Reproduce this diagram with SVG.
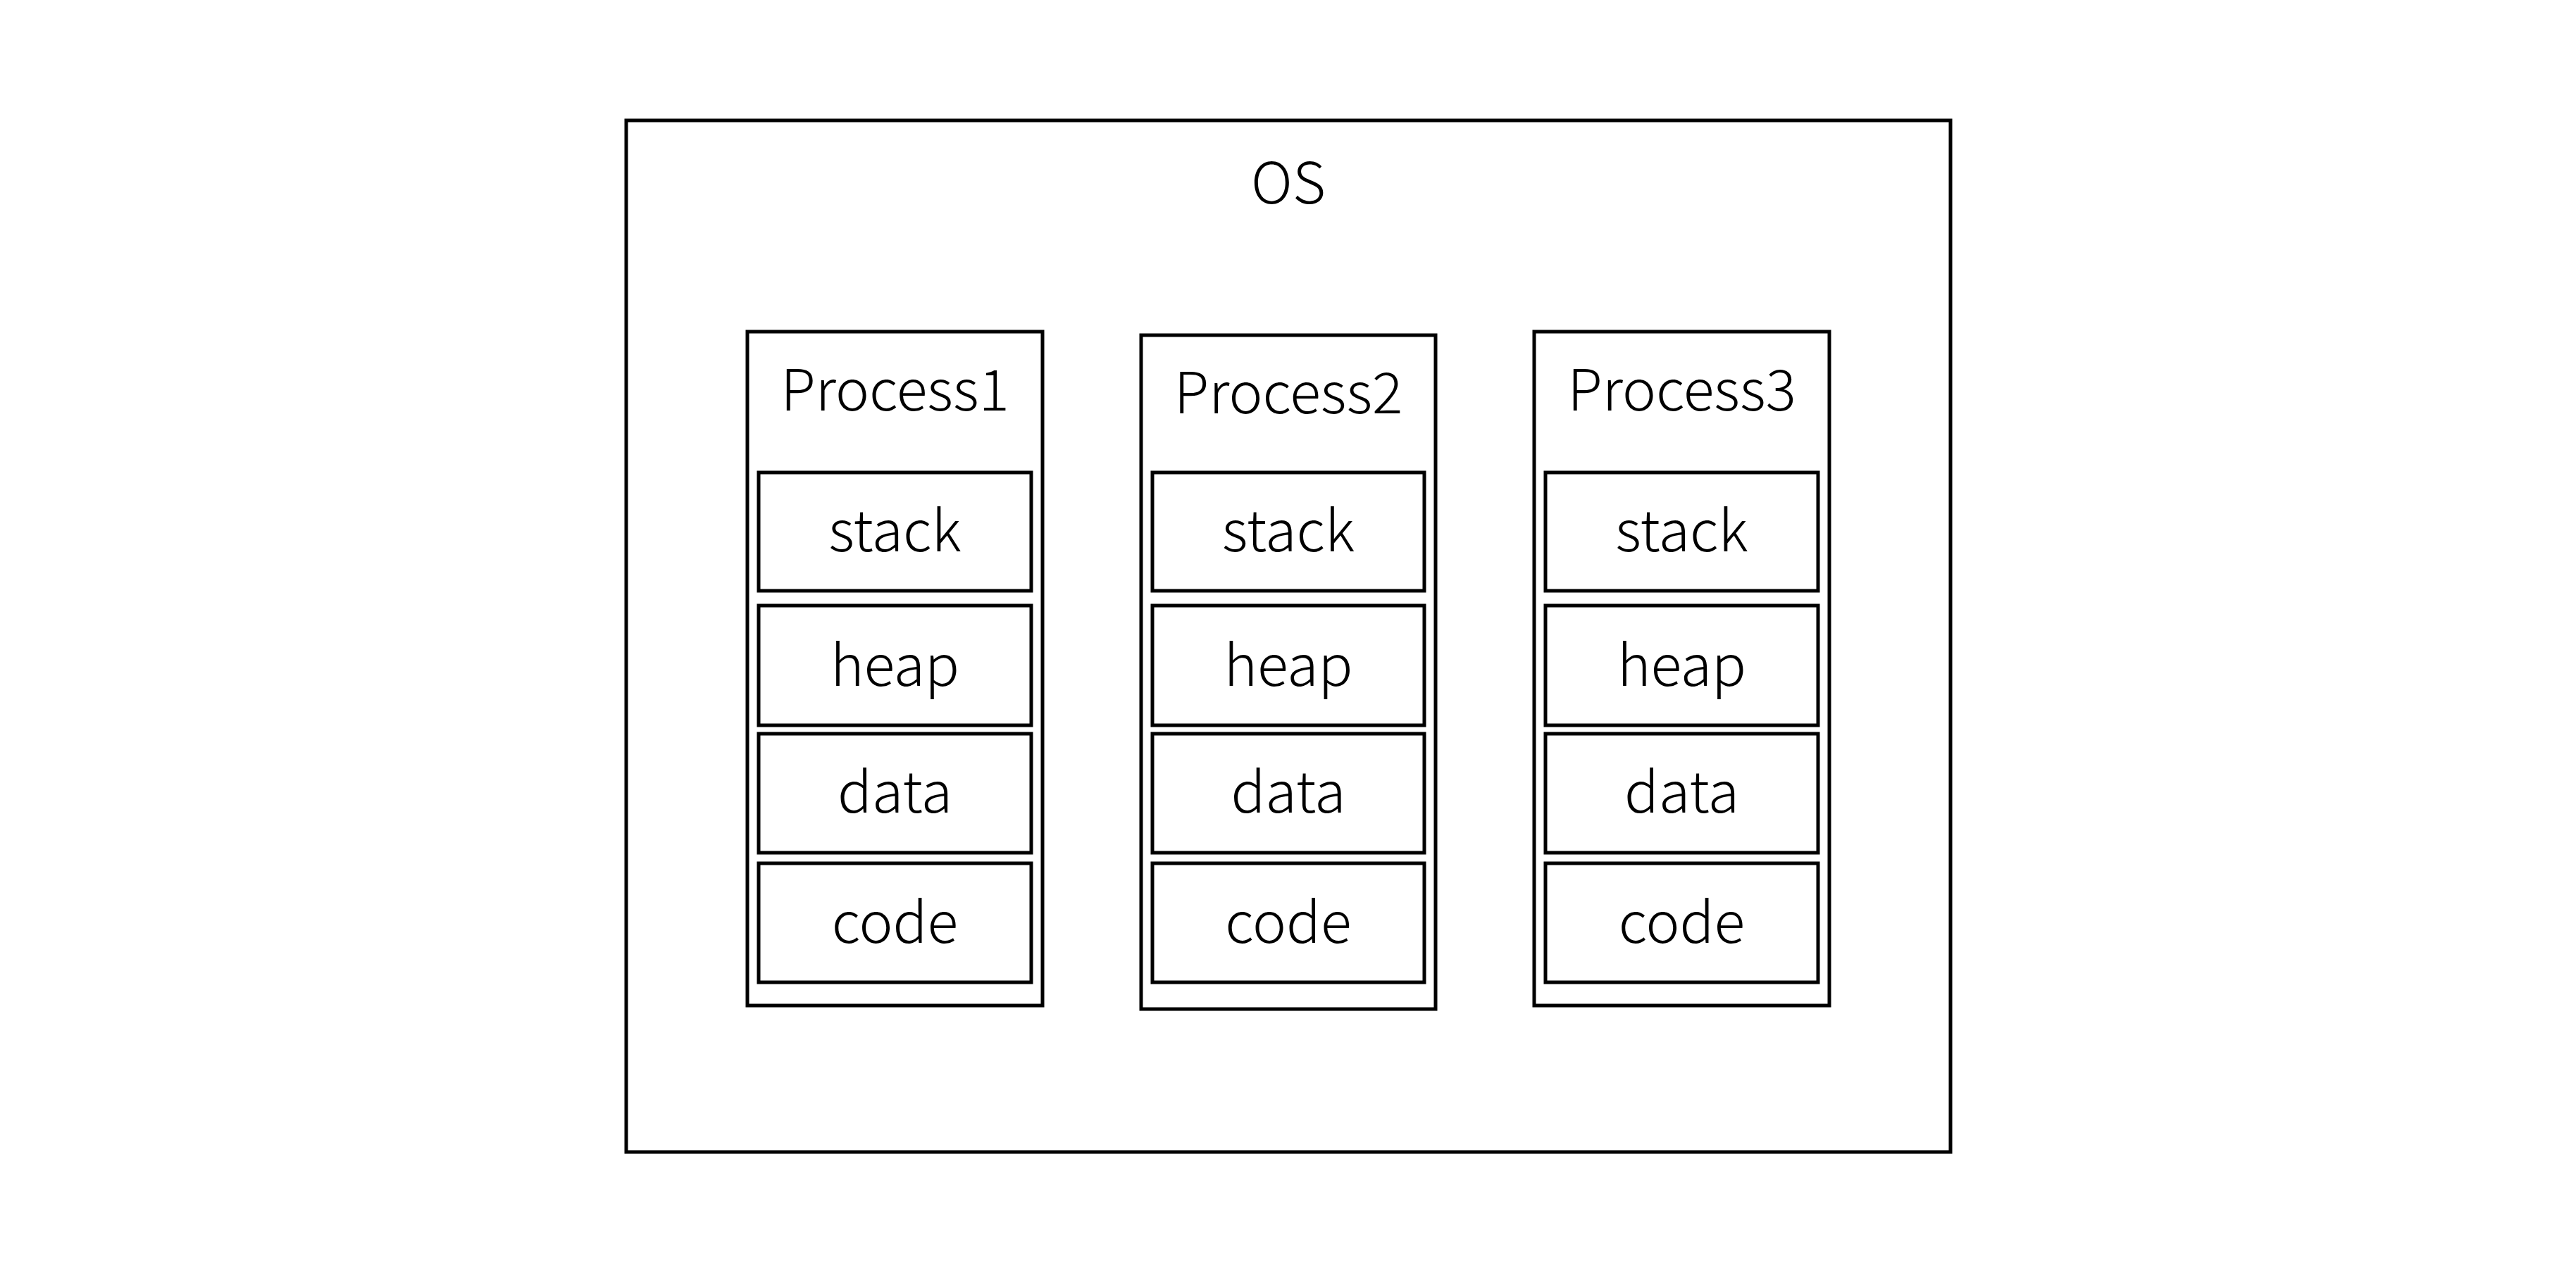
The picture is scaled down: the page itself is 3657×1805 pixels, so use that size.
<svg xmlns="http://www.w3.org/2000/svg" width="3657" height="1805" viewBox="0 0 3657 1805">
<style>
rect{fill:#fff;stroke:#000;stroke-width:5}
text{font-family:"Noto Sans CJK SC","Source Han Sans","Noto Sans",sans-serif;font-weight:300;font-size:81px;fill:#000;text-anchor:middle}
</style>
<rect x="0" y="0" width="3657" height="1805" style="stroke:none"/>
<g id="os">
<rect x="889" y="171" width="1880" height="1465"/>
<text x="1829" y="289">OS</text>
</g>
<g id="process1">
<rect x="1061" y="471" width="419" height="957"/>
<text x="1270.5" y="583">Process1</text>
</g>
<g id="p1-stack"><rect x="1077" y="671" width="387" height="168"/><text x="1270.5" y="783">stack</text></g>
<g id="p1-heap"><rect x="1077" y="860" width="387" height="170"/><text x="1270.5" y="974">heap</text></g>
<g id="p1-data"><rect x="1077" y="1042" width="387" height="169"/><text x="1270.5" y="1154">data</text></g>
<g id="p1-code"><rect x="1077" y="1226" width="387" height="169"/><text x="1270.5" y="1339">code</text></g>
<g id="process2">
<rect x="1620" y="476" width="418" height="957"/>
<text x="1829" y="587">Process2</text>
</g>
<g id="p2-stack"><rect x="1636" y="671" width="386" height="168"/><text x="1829" y="783">stack</text></g>
<g id="p2-heap"><rect x="1636" y="860" width="386" height="170"/><text x="1829" y="974">heap</text></g>
<g id="p2-data"><rect x="1636" y="1042" width="386" height="169"/><text x="1829" y="1154">data</text></g>
<g id="p2-code"><rect x="1636" y="1226" width="386" height="169"/><text x="1829" y="1339">code</text></g>
<g id="process3">
<rect x="2178" y="471" width="419" height="957"/>
<text x="2387.5" y="583">Process3</text>
</g>
<g id="p3-stack"><rect x="2194" y="671" width="387" height="168"/><text x="2387.5" y="783">stack</text></g>
<g id="p3-heap"><rect x="2194" y="860" width="387" height="170"/><text x="2387.5" y="974">heap</text></g>
<g id="p3-data"><rect x="2194" y="1042" width="387" height="169"/><text x="2387.5" y="1154">data</text></g>
<g id="p3-code"><rect x="2194" y="1226" width="387" height="169"/><text x="2387.5" y="1339">code</text></g>
<g id="connectors"></g>
</svg>
